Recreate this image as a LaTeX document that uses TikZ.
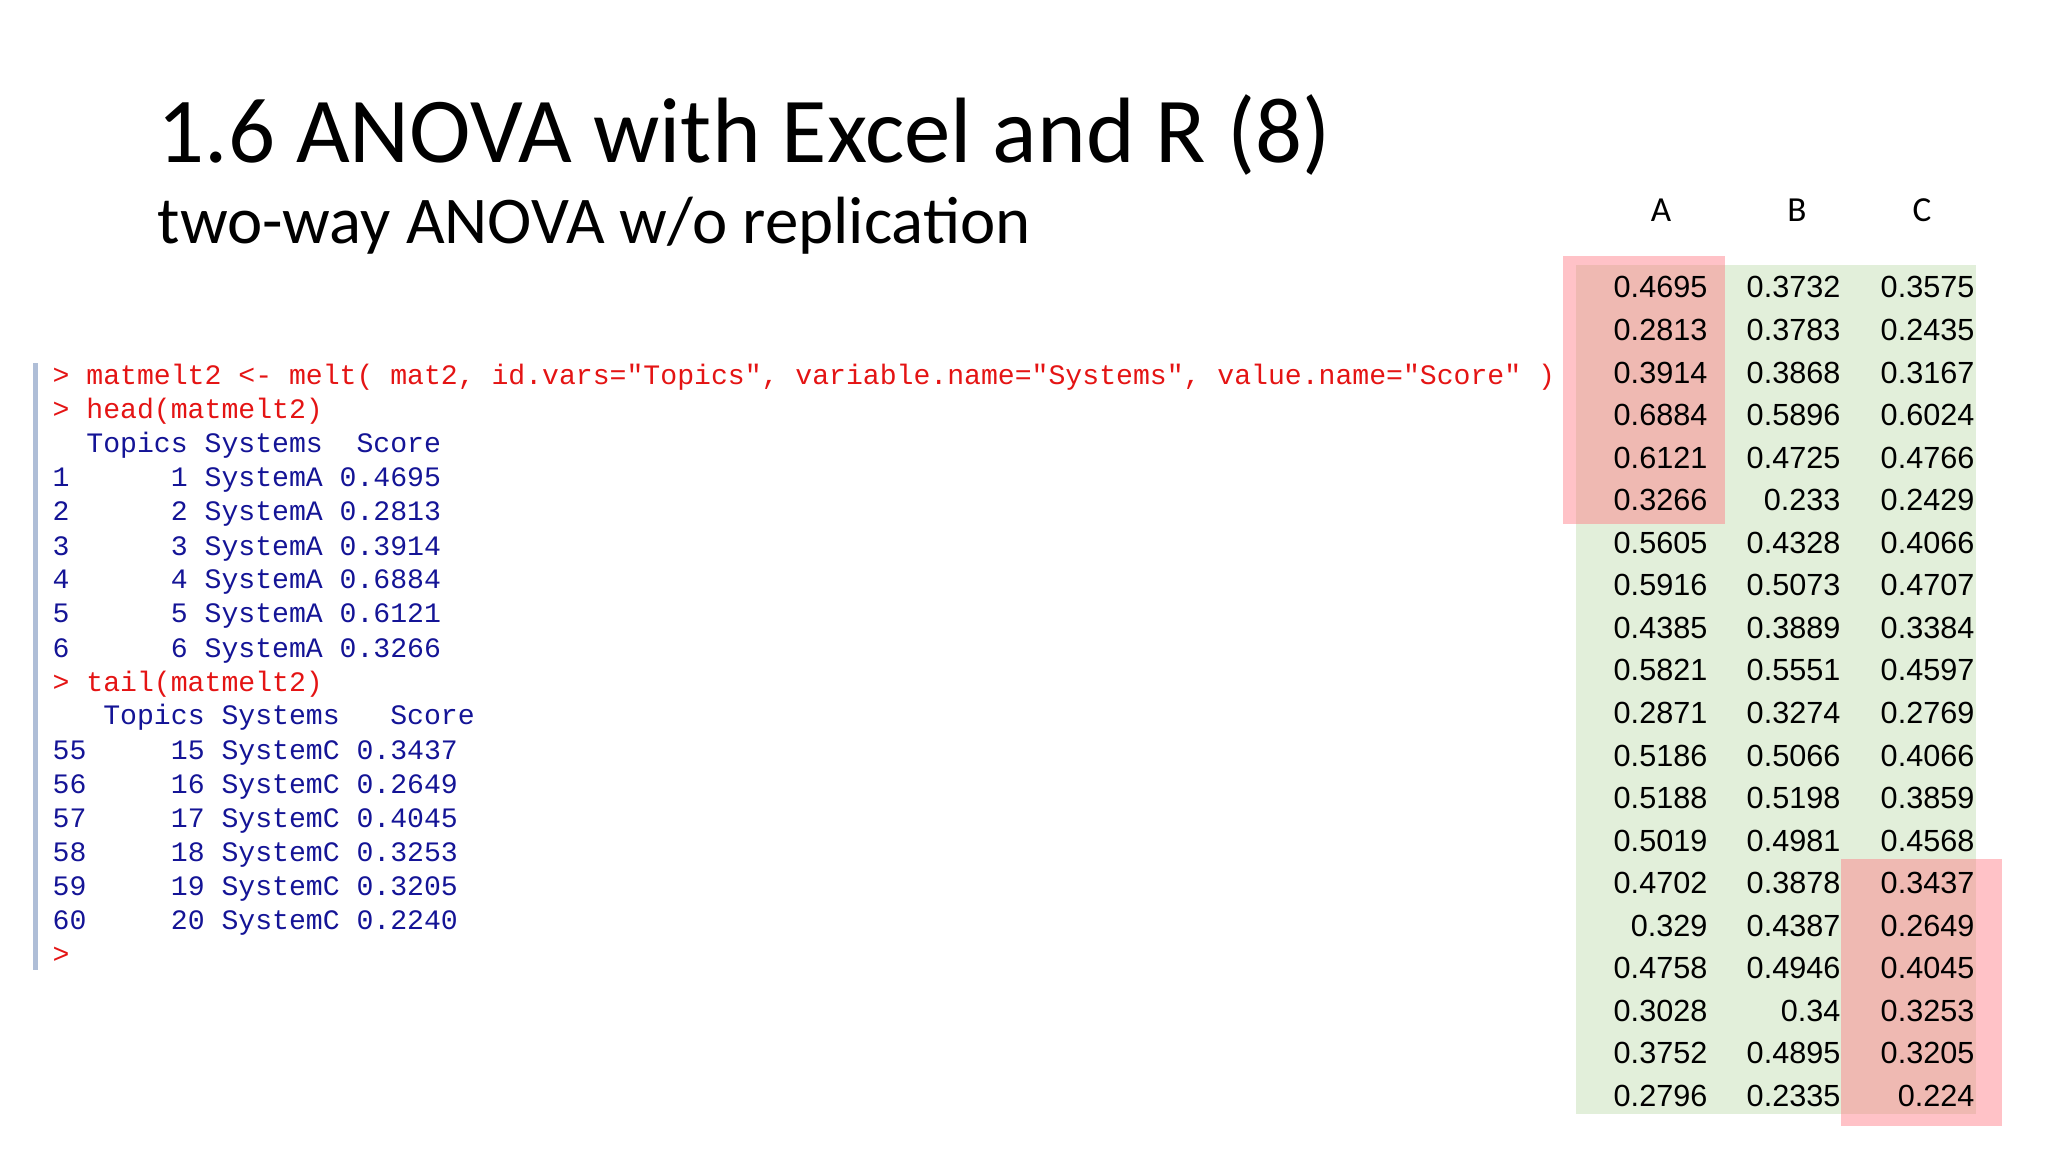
\documentclass[tikz,border=0pt]{standalone}
\usepackage{fontspec}
\setmainfont{Carlito}
\newfontfamily\codefont{Liberation Mono}
\newfontfamily\numfont{Liberation Sans}
\definecolor{rred}{RGB}{228,20,20}
\definecolor{rblue}{RGB}{20,20,150}
\definecolor{bggreen}{RGB}{226,239,218}
\definecolor{hlred}{RGB}{255,120,130}
\definecolor{barblue}{RGB}{175,190,215}
\begin{document}
\begin{tikzpicture}[x=0.01cm,y=-0.01cm,
  codered/.style={anchor=base west,inner sep=0,text=rred,font=\codefont\fontsize{8pt}{9pt}\selectfont},
  codeblue/.style={anchor=base west,inner sep=0,text=rblue,font=\codefont\fontsize{8pt}{9pt}\selectfont},
  num/.style={anchor=base east,inner sep=0,font=\numfont\fontsize{8.7pt}{10pt}\selectfont},
  colhead/.style={anchor=base,inner sep=0,font=\fontsize{10pt}{12pt}\selectfont}]
\useasboundingbox (0,0) rectangle (2048,1152);
\node[anchor=base west,inner sep=0,font=\fontsize{26.4pt}{30pt}\selectfont] (title) at (157,163) {1.6 ANOVA with Excel and R (8)};
\node[anchor=base west,inner sep=0,font=\fontsize{19pt}{22pt}\selectfont] (sub) at (157,244) {two-way ANOVA w/o replication};
% code
\fill[barblue] (33,363) rectangle (38,970);
\foreach \t [count=\i from 0] in {
  {> matmelt2 <- melt( mat2, id.vars="Topics", variable.name="Systems", value.name="Score" )},
  {> head(matmelt2)}}
  \node[codered] (c\i) at (52,385+34*\i) {\t};
\foreach \t [count=\i from 2] in {
  {~~Topics~Systems~~Score},
  {1~~~~~~1~SystemA~0.4695},
  {2~~~~~~2~SystemA~0.2813},
  {3~~~~~~3~SystemA~0.3914},
  {4~~~~~~4~SystemA~0.6884},
  {5~~~~~~5~SystemA~0.6121},
  {6~~~~~~6~SystemA~0.3266}}
  \node[codeblue] (c\i) at (52,385+34*\i) {\t};
\node[codered] (c9) at (52,385+34*9) {> tail(matmelt2)};
\foreach \t [count=\i from 10] in {
  {~~~Topics~Systems~~~Score},
  {55~~~~~15~SystemC~0.3437},
  {56~~~~~16~SystemC~0.2649},
  {57~~~~~17~SystemC~0.4045},
  {58~~~~~18~SystemC~0.3253},
  {59~~~~~19~SystemC~0.3205},
  {60~~~~~20~SystemC~0.2240}}
  \node[codeblue] (c\i) at (52,385+34*\i) {\t};
\node[codered] (c17) at (52,385+34*17) {>};
% table
\fill[bggreen] (1576,265) rectangle (1976,1114);
\fill[hlred,opacity=0.45] (1563,256) rectangle (1725,524);
\fill[hlred,opacity=0.45] (1841,859) rectangle (2002,1126);
\node[colhead] (hA) at (1661,222) {A};
\node[colhead] (hB) at (1797,222) {B};
\node[colhead] (hC) at (1922,222) {C};
\foreach \a/\b/\c [count=\i from 0] in {
0.4695/0.3732/0.3575, 0.2813/0.3783/0.2435, 0.3914/0.3868/0.3167, 0.6884/0.5896/0.6024,
0.6121/0.4725/0.4766, 0.3266/0.233/0.2429, 0.5605/0.4328/0.4066, 0.5916/0.5073/0.4707,
0.4385/0.3889/0.3384, 0.5821/0.5551/0.4597, 0.2871/0.3274/0.2769, 0.5186/0.5066/0.4066,
0.5188/0.5198/0.3859, 0.5019/0.4981/0.4568, 0.4702/0.3878/0.3437, 0.329/0.4387/0.2649,
0.4758/0.4946/0.4045, 0.3028/0.34/0.3253, 0.3752/0.4895/0.3205, 0.2796/0.2335/0.224} {
  \node[num] (a\i) at (1708,298+42.55*\i) {\a};
  \node[num] (b\i) at (1841,298+42.55*\i) {\b};
  \node[num] (cc\i) at (1975,298+42.55*\i) {\c};
}
\end{tikzpicture}
\end{document}
